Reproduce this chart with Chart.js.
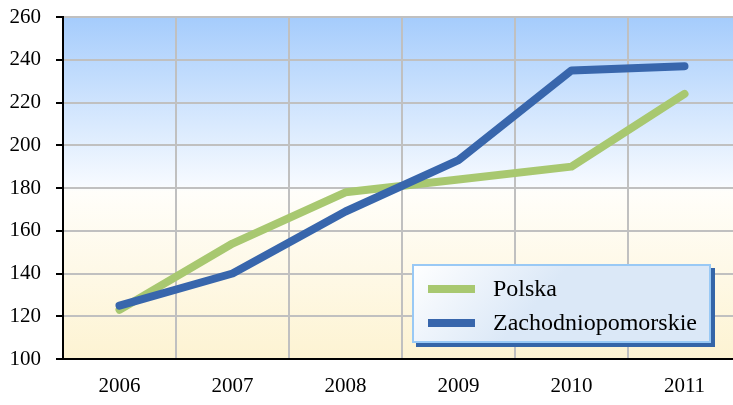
<!DOCTYPE html>
<html>
<head>
<meta charset="utf-8">
<script src="https://cdn.jsdelivr.net/npm/chart.js@4"></script>
<style>
  html, body { margin: 0; padding: 0; background: #fff; overflow: hidden; }
  #wrap { width: 742px; height: 405px; }
</style>
</head>
<body>
<div id="wrap"><canvas id="trend"></canvas></div>
<script>
const years = ['2006', '2007', '2008', '2009', '2010', '2011'];
const polska = [123, 154, 178, 184, 190, 224];
const zachodniopomorskie = [125, 140, 169, 193, 235, 237];
const yMin = 100, yMax = 260, yStep = 20;

const serif = '"Liberation Serif", "Times New Roman", serif';

// sky-to-sand gradient behind the plot area
const plotBackground = {
  id: 'plotBackground',
  beforeDraw(chart) {
    const { ctx, chartArea: a } = chart;
    const g = ctx.createLinearGradient(0, a.top, 0, a.bottom);
    g.addColorStop(0, '#a5ccfc');
    g.addColorStop(0.49, '#f6faff');
    g.addColorStop(0.51, '#fffefa');
    g.addColorStop(1, '#fdf3d2');
    ctx.save();
    ctx.fillStyle = g;
    ctx.fillRect(a.left, a.top, a.right - a.left, a.bottom - a.top);
    ctx.restore();
  }
};

// boxed legend sitting inside the plot, lower right
const boxLegend = {
  id: 'boxLegend',
  afterDraw(chart) {
    const ctx = chart.ctx;
    const x = 412, y = 264, w = 299, h = 79;
    ctx.save();
    // dark shadow edge
    ctx.fillStyle = '#3465a8';
    ctx.fillRect(x + 4, y + 4, w, h);
    const g = ctx.createLinearGradient(x, y, x + w * 0.3, y + h);
    g.addColorStop(0, '#ffffff');
    g.addColorStop(1, '#dbe8f7');
    ctx.fillStyle = g;
    ctx.fillRect(x, y, w, h);
    ctx.strokeStyle = '#99c9f5';
    ctx.lineWidth = 2;
    ctx.strokeRect(x + 1, y + 1, w - 2, h - 2);

    ctx.font = '24px ' + serif;
    ctx.textBaseline = 'middle';
    ctx.fillStyle = '#000';
    chart.data.datasets.forEach((ds, i) => {
      const cy = y + 25 + i * 34;
      ctx.strokeStyle = ds.borderColor;
      ctx.lineWidth = 8;
      ctx.lineCap = 'butt';
      ctx.beginPath();
      ctx.moveTo(428, cy);
      ctx.lineTo(475, cy);
      ctx.stroke();
      ctx.fillText(ds.label, 493, cy + 1);
    });
    ctx.restore();
  }
};

new Chart(document.getElementById('trend'), {
  type: 'line',
  data: {
    labels: years,
    datasets: [{
      label: 'Polska',
      data: polska,
      borderColor: '#a8c870',
      order: 1
    }, {
      label: 'Zachodniopomorskie',
      data: zachodniopomorskie,
      borderColor: '#3866ac',
      order: 0
    }]
  },
  options: {
    responsive: true,
    maintainAspectRatio: false,
    animation: false,
    layout: { padding: { top: 17, right: 1, left: 0, bottom: 0 } },
    elements: {
      line: { borderWidth: 8, tension: 0, borderCapStyle: 'round', borderJoinStyle: 'round' },
      point: { radius: 0, hoverRadius: 0 }
    },
    plugins: {
      legend: { display: false },
      tooltip: { enabled: false }
    },
    scales: {
      x: {
        offset: true,
        grid: { offset: true, color: '#c0c0c0', lineWidth: 2, drawTicks: false },
        border: { color: '#000', width: 2 },
        ticks: { color: '#000', padding: 15, font: { family: serif, size: 21 } },
        afterFit(scale) { scale.height = 46; }
      },
      y: {
        min: yMin,
        max: yMax,
        grid: { color: '#c0c0c0', lineWidth: 2, tickColor: '#000', tickLength: 7 },
        border: { color: '#000', width: 2 },
        ticks: { stepSize: yStep, color: '#000', padding: 15, font: { family: serif, size: 21 } },
        afterFit(scale) {
          scale.width = 63;
          scale.paddingTop = 0;
          scale.paddingBottom = 0;
        }
      }
    }
  },
  plugins: [plotBackground, boxLegend]
});
</script>
</body>
</html>
